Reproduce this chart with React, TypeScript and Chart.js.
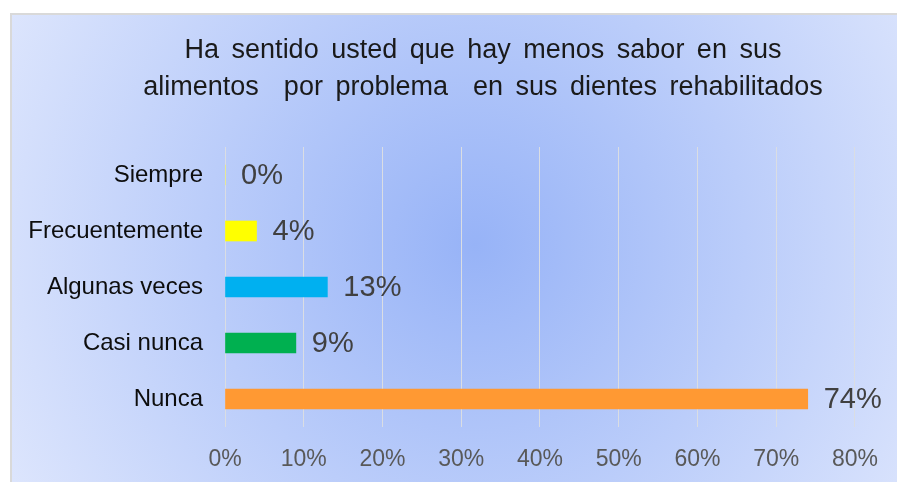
import React, { useEffect, useRef } from "react";
import { Chart, registerables } from "chart.js";

Chart.register(...registerables);

const categories = ["Siempre", "Frecuentemente", "Algunas veces", "Casi nunca", "Nunca"];
const values = [0, 4, 13, 9, 74];
const barColors = ["#ffff00", "#ffff00", "#00b0f0", "#00b050", "#ff9933"];
const titleLines = [
  "Ha sentido usted que hay menos sabor en sus",
  "alimentos  por problema  en sus dientes rehabilitados",
];
const xMin = 0;
const xMax = 80;
const xStep = 10;

const FONT = '"Liberation Sans", Arial, sans-serif';

const backgroundPlugin = {
  id: "bgPlugin",
  beforeDraw(chart: any) {
    const { ctx, width, height } = chart;
    ctx.save();
    ctx.fillStyle = "#ffffff";
    ctx.fillRect(0, 0, width, height);
    const g = ctx.createRadialGradient(475, 245, 0, 475, 245, 540);
    g.addColorStop(0, "#97b3f7");
    g.addColorStop(1, "#dfe7fd");
    ctx.fillStyle = g;
    ctx.fillRect(12, 15, width - 12, height - 15);
    ctx.fillStyle = "#d9d9d9";
    ctx.fillRect(10, 13, width - 10, 2);
    ctx.fillRect(10, 13, 2, height - 13);
    ctx.restore();
  },
};

const titlePlugin = {
  id: "titlePlugin",
  afterDraw(chart: any) {
    const { ctx } = chart;
    ctx.save();
    ctx.font = `27px ${FONT}`;
    ctx.fillStyle = "#1a1a1a";
    ctx.textAlign = "center";
    ctx.textBaseline = "alphabetic";
    try {
      (ctx as any).wordSpacing = "5px";
    } catch (e) {}
    const ys = [58, 95];
    titleLines.forEach((line, i) => {
      ctx.fillText(line, 483, ys[i]);
    });
    ctx.restore();
  },
};

const dataLabelPlugin = {
  id: "dataLabelPlugin",
  afterDatasetsDraw(chart: any) {
    const { ctx } = chart;
    const meta = chart.getDatasetMeta(0);
    ctx.save();
    ctx.font = `29px ${FONT}`;
    ctx.fillStyle = "#404040";
    ctx.textAlign = "left";
    ctx.textBaseline = "middle";
    meta.data.forEach((el: any, i: number) => {
      ctx.fillText(`${values[i]}%`, el.x + 16, el.y + 1);
    });
    ctx.restore();
  },
};

export default function App() {
  const canvasRef = useRef<HTMLCanvasElement | null>(null);

  useEffect(() => {
    const canvas = canvasRef.current;
    if (!canvas) return;
    const chart = new Chart(canvas, {
      type: "bar",
      data: {
        labels: categories,
        datasets: [
          {
            data: values,
            backgroundColor: barColors,
            borderWidth: 0,
            barThickness: 20,
          },
        ],
      },
      options: {
        indexAxis: "y",
        animation: false,
        responsive: false,
        devicePixelRatio: 1,
        layout: { padding: { top: 147, right: 41, bottom: 0, left: 0 } },
        plugins: {
          legend: { display: false },
          title: { display: false },
          tooltip: { enabled: false },
        },
        scales: {
          x: {
            min: xMin,
            max: xMax,
            border: { display: false },
            grid: { color: "#dadde3", lineWidth: 1, drawTicks: false },
            ticks: {
              stepSize: xStep,
              padding: 19,
              color: "#595959",
              font: { family: FONT, size: 23 },
              callback: (v: any) => `${v}%`,
            },
            afterFit: (scale: any) => {
              scale.height = 55;
            },
          },
          y: {
            border: { display: false },
            grid: { display: false, drawTicks: false },
            ticks: {
              padding: 22,
              color: "#0d0d0d",
              font: { family: FONT, size: 24 },
            },
            afterFit: (scale: any) => {
              scale.width = 225;
            },
          },
        },
      },
      plugins: [backgroundPlugin, dataLabelPlugin, titlePlugin],
    });
    return () => chart.destroy();
  }, []);

  return (
    <div style={{ position: "fixed", left: 0, top: 0, width: 897, height: 482 }}>
      <canvas ref={canvasRef} width={897} height={482} style={{ display: "block" }} />
    </div>
  );
}
